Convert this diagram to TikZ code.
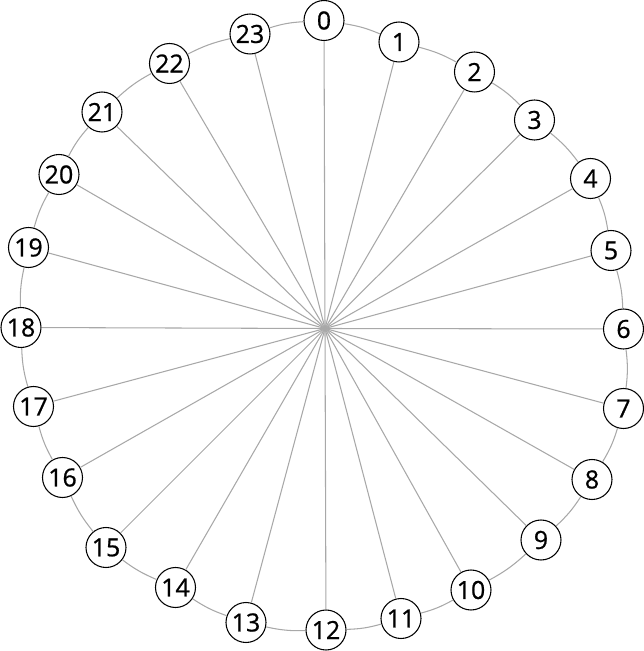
\documentclass[tikz,border=0pt]{standalone}
\usepackage{fontspec}
\setmainfont{Open Sans}
\newfontfamily\hourfont[FakeBold=0.8]{Open Sans}
\usetikzlibrary{positioning}
\definecolor{spokeGray}{HTML}{A8A8A8}

\begin{document}
\begin{tikzpicture}[
    hour/.style={circle, draw=black, line width=0.6pt, fill=white,
        minimum size=0.8cm, inner sep=0pt, font=\hourfont\fontsize{14.2}{16}\selectfont},
    spoke/.style={draw=spokeGray, line width=0.6pt}
]
    \useasboundingbox (-6.5,-6.45) rectangle (6.38,6.57);
    \coordinate (c) at (0,0);

    \node[hour] (n0) at (-0.02, 6.16) {0};
    \node[hour] (n1) at (1.48, 5.73) {1};
    \node[hour] (n2) at (2.99, 5.13) {2};
    \node[hour] (n3) at (4.19, 4.17) {3};
    \node[hour] (n4) at (5.31, 3.00) {4};
    \node[hour] (n5) at (5.72, 1.56) {5};
    \node[hour] (n6) at (5.97, -0.01) {6};
    \node[hour] (n7) at (5.97, -1.60) {7};
    \node[hour] (n8) at (5.34, -3.02) {8};
    \node[hour] (n9) at (4.32, -4.23) {9};
    \node[hour] (n10) at (2.92, -5.23) {10};
    \node[hour] (n11) at (1.52, -5.80) {11};
    \node[hour] (n12) at (0.02, -6.03) {12};
    \node[hour] (n13) at (-1.58, -5.88) {13};
    \node[hour] (n14) at (-2.99, -5.18) {14};
    \node[hour] (n15) at (-4.38, -4.38) {15};
    \node[hour] (n16) at (-5.25, -2.98) {16};
    \node[hour] (n17) at (-5.83, -1.56) {17};
    \node[hour] (n18) at (-6.08, 0.02) {18};
    \node[hour] (n19) at (-5.93, 1.62) {19};
    \node[hour] (n20) at (-5.32, 3.08) {20};
    \node[hour] (n21) at (-4.46, 4.33) {21};
    \node[hour] (n22) at (-3.11, 5.30) {22};
    \node[hour] (n23) at (-1.50, 5.89) {23};

    % spokes and ring
    \foreach \i in {0,...,23} {
        \draw[spoke] (c) -- (n\i);
        \pgfmathtruncatemacro\nxt{mod(\i+1,24)}
        \draw[spoke] (n\i) to[bend left=7] (n\nxt);
    }
\end{tikzpicture}
\end{document}
